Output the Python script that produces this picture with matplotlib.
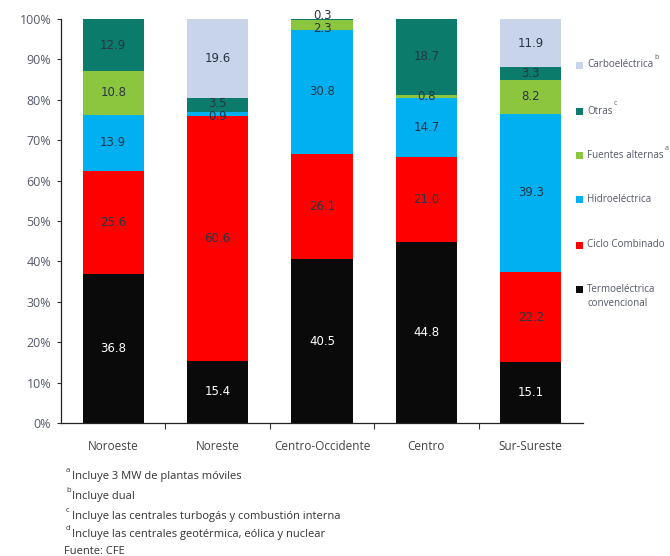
import matplotlib
matplotlib.use("Agg")
import matplotlib.pyplot as plt
import numpy as np

regions = ["Noroeste", "Noreste", "Centro-Occidente", "Centro", "Sur-Sureste"]
series = ["Termoeléctrica\nconvencional", "Ciclo Combinado", "Hidroeléctrica",
          "Fuentes alternas", "Otras", "Carboeléctrica"]
legend_sup = ["", "", "", "a", "c", "b"]
termo = [36.8, 15.4, 40.5, 44.8, 15.1]
ciclo = [25.6, 60.6, 26.1, 21.0, 22.2]
hidro = [13.9, 0.9, 30.8, 14.7, 39.3]
fuentes = [10.8, 0.0, 2.3, 0.8, 8.2]
otras = [12.9, 3.5, 0.3, 18.7, 3.3]
carbo = [0.0, 19.6, 0.0, 0.0, 11.9]
values = [termo, ciclo, hidro, fuentes, otras, carbo]
colors = ["#0a0a0a", "#ff0000", "#00b0f0", "#8cc63f", "#0b7b6c", "#c8d4ea"]
yticks = [0, 10, 20, 30, 40, 50, 60, 70, 80, 90, 100]
footnotes = [("a", "Incluye 3 MW de plantas móviles"),
             ("b", "Incluye dual"),
             ("c", "Incluye las centrales turbogás y combustión interna"),
             ("d", "Incluye las centrales geotérmica, eólica y nuclear")]
source = "Fuente: CFE"

plt.rcParams['font.family'] = ['Open Sans', 'DejaVu Sans']

W, H = 670, 556
fig = plt.figure(figsize=(W / 100, H / 100), dpi=100)
ax = fig.add_axes([61 / W, 1 - 423 / H, (583 - 61) / W, (423 - 19) / H])

x = np.arange(len(regions))
bottom = np.zeros(len(regions))
labels = [[] for _ in regions]  # per bar: [y, text, color]
for vals, col in zip(values, colors):
    vals = np.array(vals)
    ax.bar(x, vals, bottom=bottom, width=0.585, color=col, linewidth=0)
    for i, (v, b) in enumerate(zip(vals, bottom)):
        if v > 0:
            tc = "white" if col == "#0a0a0a" else "#2a3444"
            labels[i].append([b + v / 2, f"{v:.1f}", tc])
    bottom = bottom + vals

# spread labels of thin adjacent segments so they stay legible
min_gap = 3.3
for i, labs in enumerate(labels):
    for k in range(1, len(labs)):
        gap = labs[k][0] - labs[k - 1][0]
        if gap < min_gap:
            d = (min_gap - gap) / 2
            labs[k - 1][0] -= d
            labs[k][0] += d
    for ly, txt, tc in labs:
        ax.text(x[i], ly, txt, ha="center", va="center", fontsize=8.5,
                color=tc, family="DejaVu Sans", clip_on=False)

ax.set_xlim(-0.5, len(regions) - 0.5)
ax.set_ylim(0, 100)
ax.set_yticks(yticks)
ax.set_yticklabels([f"{t}%" for t in yticks], fontsize=9, color="#555a6a")
ax.tick_params(axis="y", length=3, width=0.8, color="#333333", pad=4)
ax.set_xticks(x)
ax.set_xticklabels(regions, fontsize=8.5, color="#444444")
ax.tick_params(axis="x", length=0, pad=12)
ax.set_xticks(x[:-1] + 0.5, minor=True)
ax.tick_params(axis="x", which="minor", length=4, width=0.8, color="#333333")
for s in ["top", "right"]:
    ax.spines[s].set_visible(False)
for s in ["left", "bottom"]:
    ax.spines[s].set_linewidth(0.9)
    ax.spines[s].set_color("#222222")

# legend (top to bottom: reversed stacking order)
leg_y = [65, 111, 155, 199, 245, 289]
fig.canvas.draw()
renderer = fig.canvas.get_renderer()
for i, (name, col, sup) in enumerate(zip(series[::-1], colors[::-1], legend_sup[::-1])):
    yy = 1 - leg_y[i] / H
    fig.patches.append(plt.Rectangle((576 / W, yy - 4 / H), 7 / W, 7 / H,
                                     transform=fig.transFigure, color=col, linewidth=0))
    lines = name.split("\n")
    t = fig.text(587 / W, yy, lines[0], fontsize=7.1, color="#555a6a", va="center", ha="left")
    if len(lines) > 1:
        fig.text(587 / W, yy - 15 / H, lines[1], fontsize=7.1, color="#555a6a", va="center", ha="left")
    if sup:
        ext = t.get_window_extent(renderer)
        sx = min(ext.x1 + 1, W - 4)
        fig.text(sx / W, yy + 7 / H, sup, fontsize=5, color="#555a6a", va="center", ha="left")

# footnotes
fy = [477, 497, 516, 535]
for (s, txt), yy in zip(footnotes, fy):
    fig.text(66 / W, 1 - (yy - 6) / H, s, fontsize=5.5, color="#333333", va="center")
    fig.text(72 / W, 1 - yy / H, txt, fontsize=8, color="#333333", va="center")
fig.text(64 / W, 1 - 551 / H, source, fontsize=8, color="#333333", va="center")

fig.savefig("out.png", dpi=100, facecolor="white")
